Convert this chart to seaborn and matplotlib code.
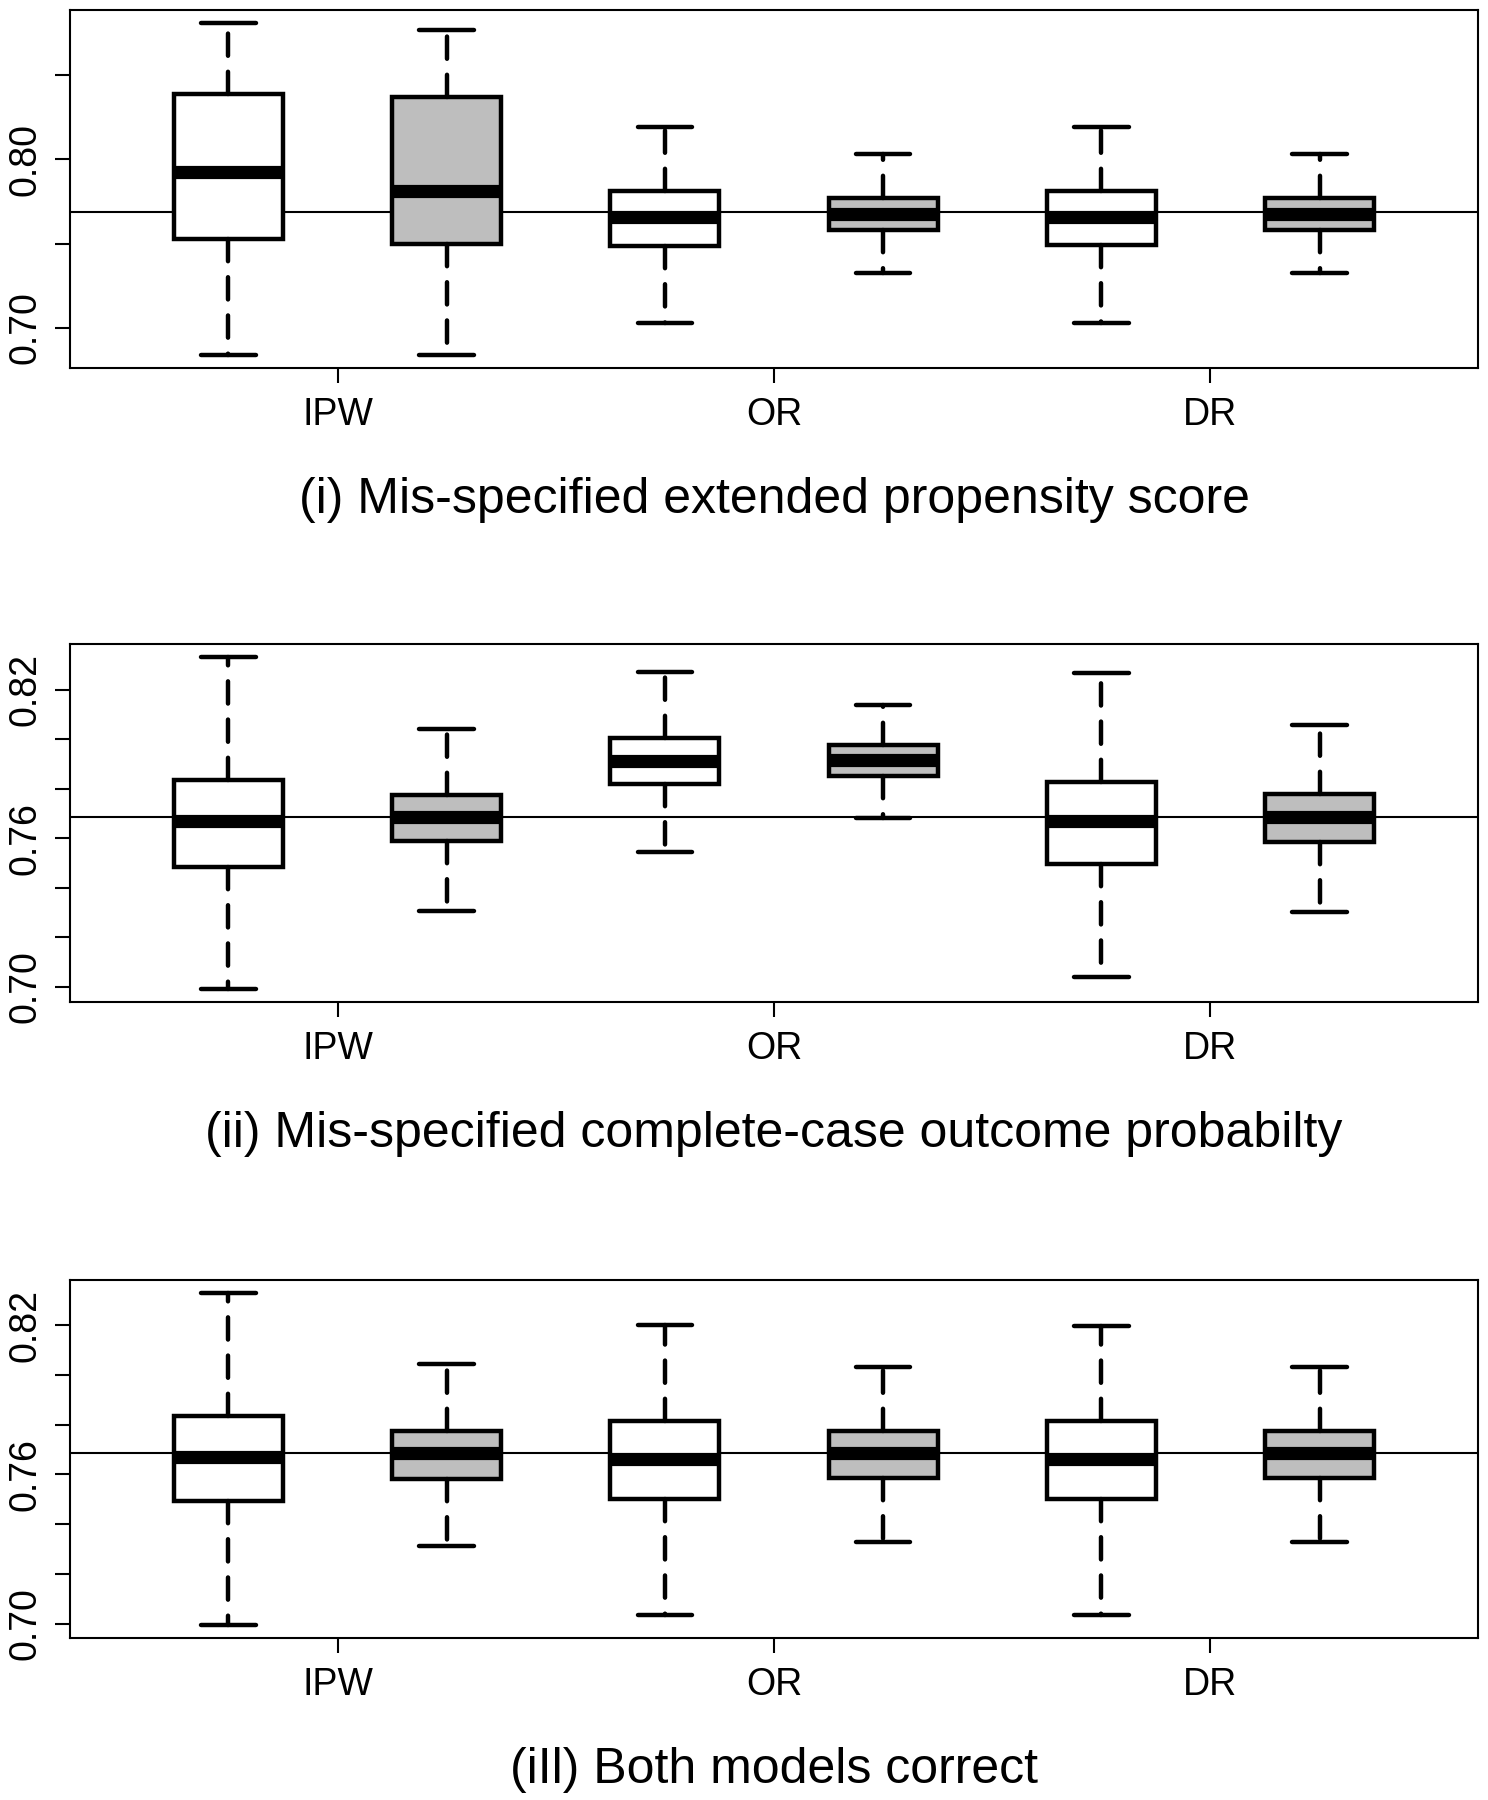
import numpy as np
import pandas as pd
import seaborn as sns
import matplotlib.pyplot as plt

methods = ["IPW", "OR", "DR"]
kinds = ["plain", "shaded"]
true_value = 0.7687

titles = [
    "(i) Mis-specified extended propensity score",
    "(ii) Mis-specified complete-case outcome probabilty",
    "(iIl) Both models correct",
]

# five-number summaries (lower whisker, Q1, median, Q3, upper whisker)
# order: IPW plain, IPW shaded, OR plain, OR shaded, DR plain, DR shaded
panel1 = [
    [0.6840, 0.7528, 0.7923, 0.8386, 0.8807],
    [0.6840, 0.7498, 0.7810, 0.8371, 0.8765],
    [0.7031, 0.7488, 0.7656, 0.7814, 0.8192],
    [0.7328, 0.7581, 0.7678, 0.7773, 0.8032],
    [0.7031, 0.7492, 0.7660, 0.7812, 0.8194],
    [0.7328, 0.7581, 0.7678, 0.7773, 0.8032],
]
panel2 = [
    [0.6992, 0.7484, 0.7669, 0.7834, 0.8332],
    [0.7308, 0.7588, 0.7685, 0.7776, 0.8044],
    [0.7543, 0.7819, 0.7913, 0.8005, 0.8271],
    [0.7681, 0.7854, 0.7915, 0.7978, 0.8141],
    [0.7039, 0.7496, 0.7671, 0.7826, 0.8267],
    [0.7303, 0.7585, 0.7686, 0.7780, 0.8059],
]
panel3 = [
    [0.6996, 0.7495, 0.7669, 0.7833, 0.8328],
    [0.7312, 0.7582, 0.7685, 0.7773, 0.8042],
    [0.7036, 0.7502, 0.7662, 0.7816, 0.8200],
    [0.7330, 0.7586, 0.7685, 0.7773, 0.8033],
    [0.7036, 0.7502, 0.7662, 0.7816, 0.8197],
    [0.7330, 0.7586, 0.7685, 0.7773, 0.8033],
]

yticks1 = [0.70, 0.75, 0.80, 0.85]
ylabels1 = ["0.70", "", "0.80", ""]
yticks23 = [0.70, 0.72, 0.74, 0.76, 0.78, 0.80, 0.82]
ylabels23 = ["0.70", "", "", "0.76", "", "", "0.82"]


def to_frame(summaries):
    rows = []
    for i, vals in enumerate(summaries):
        m = methods[i // 2]
        k = kinds[i % 2]
        for v in vals:
            rows.append({"box": f"{m}-{k}", "kind": k, "value": v})
    return pd.DataFrame(rows)


sns.set_style("white")
plt.rcParams["font.family"] = ["Liberation Sans", "DejaVu Sans"]
plt.rcParams["text.color"] = "black"

fig = plt.figure(figsize=(14.88, 18), dpi=100)
left, width = 70 / 1488, (1478 - 70) / 1488
bottoms_px = [368, 1002, 1638]
height = 358 / 1800

panels = [(panel1, yticks1, ylabels1), (panel2, yticks23, ylabels23), (panel3, yticks23, ylabels23)]
order = [f"{m}-{k}" for m in methods for k in kinds]

for (summ, yt, yl), bpx, title in zip(panels, bottoms_px, titles):
    ax = fig.add_axes([left, 1 - bpx / 1800, width, height])
    df = to_frame(summ)
    sns.boxplot(
        data=df, x="box", y="value", hue="kind", order=order,
        palette={"plain": "white", "shaded": "#bebebe"}, saturation=1,
        dodge=False, legend=False, width=0.5, whis=(0, 100),
        linecolor="black", linewidth=3.2, fliersize=0, ax=ax,
        medianprops={"linewidth": 9.5, "color": "black", "solid_capstyle": "butt"},
        whiskerprops={"linestyle": (0, (5, 3.6)), "linewidth": 3.2, "dash_capstyle": "round"},
        capprops={"linewidth": 3.2, "solid_capstyle": "round"},
    )
    ax.axhline(true_value, color="black", linewidth=1.5, zorder=0.5)

    vals = np.array(summ)
    lo, hi = vals.min(), vals.max()
    pad = 0.04 * (hi - lo)
    ax.set_ylim(lo - pad, hi + pad)
    ax.set_xlim(-0.726, 5.726)

    ax.set_yticks(yt)
    ax.set_yticklabels(yl)
    ax.set_xticks([0.5, 2.5, 4.5])
    ax.set_xticklabels(methods)
    ax.set_xlabel("")
    ax.set_ylabel("")
    ax.tick_params(axis="both", direction="out", length=11, width=1.5,
                   labelsize=27, colors="black", left=True, bottom=True)
    ax.tick_params(axis="y", labelrotation=90, pad=8)
    ax.tick_params(axis="x", pad=10)
    for lab in ax.get_yticklabels():
        lab.set_va("center")
    for s in ax.spines.values():
        s.set_visible(True)
        s.set_color("black")
        s.set_linewidth(1.5)

    fig.text(left + width / 2, 1 - (bpx + 145) / 1800, title,
             ha="center", va="baseline", fontsize=36, color="black")

fig.savefig("out.png", dpi=100)
